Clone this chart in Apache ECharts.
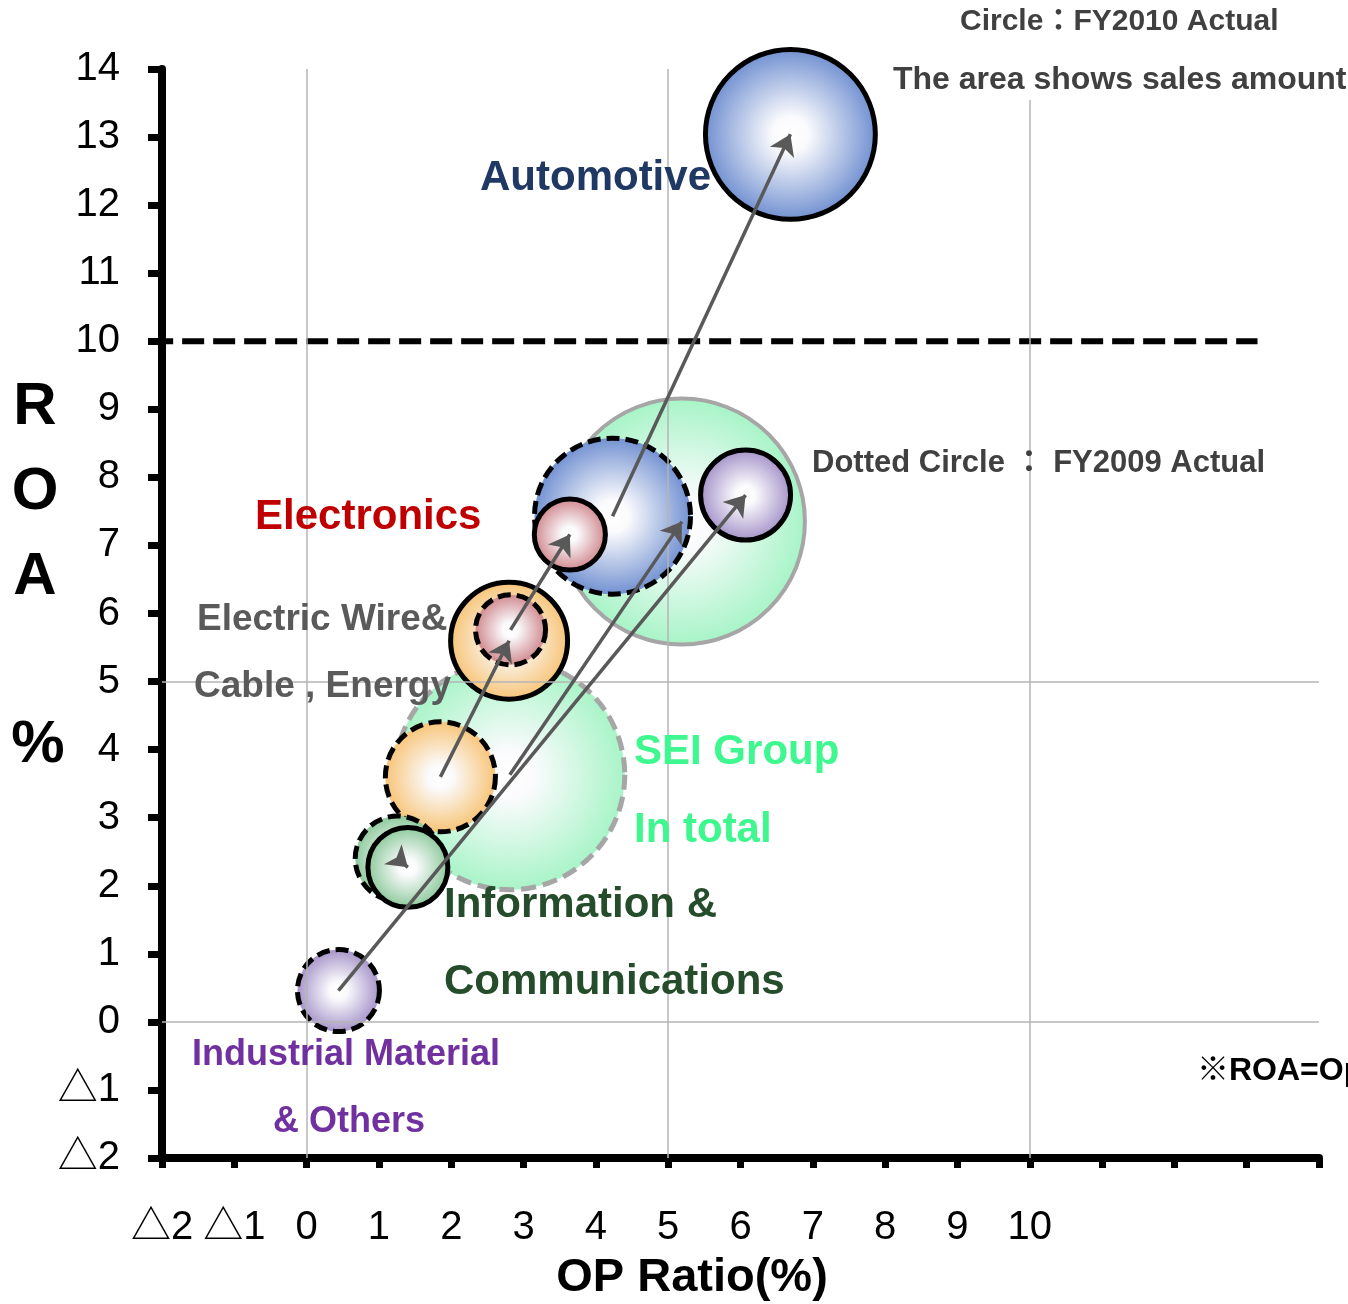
<!DOCTYPE html>
<html>
<head>
<meta charset="utf-8">
<script src="https://cdn.jsdelivr.net/npm/echarts@6/dist/echarts.min.js"></script>
<style>
html,body{margin:0;padding:0;background:#ffffff;}
#chart{width:1348px;height:1304px;}
</style>
</head>
<body>
<div id="chart"></div>
<script>
// ---------------- data ----------------
const segments = ['SEI Group In total', 'Automotive', 'Electric Wire & Cable, Energy', 'Electronics', 'Information & Communications', 'Industrial Material & Others'];
// FY2009 actual (dotted circles)
const opRatio2009 = [2.81, 4.23, 1.85, 2.82, 1.26, 0.44];
const roa2009     = [3.63, 7.43, 3.60, 5.76, 2.40, 0.46];
const sales2009   = [1777, 818, 407, 165, 243, 226];
// FY2010 actual (solid circles)
const opRatio2010 = [5.19, 6.69, 2.80, 3.64, 1.40, 6.07];
const roa2010     = [7.35, 13.04, 5.60, 7.16, 2.27, 7.74];
const sales2010   = [2034, 970, 460, 170, 215, 272];
// axis tick labels (values -2 .. 14)
const xTickLabels = ['△2', '△1', '0', '1', '2', '3', '4', '5', '6', '7', '8', '9', '10', '', '', '', ''];
const yTickLabels = ['△2', '△1', '0', '1', '2', '3', '4', '5', '6', '7', '8', '9', '10', '11', '12', '13', '14'];
const gridX = [0, 5, 10];
const gridY = [0, 5];
const targetRoa = 10;
const targetLineX = [-2.15, 13.15];

// ---------------- styles ----------------
const edgeColors = ['#A6F4C6', '#6E8ED0', '#F7C272', '#CC8086', '#86C695', '#A08DC6'];
const labelFont = "'Liberation Sans', Arial, 'Noto Sans CJK JP', sans-serif";
const tickFont = "'Liberation Sans', Arial, 'Noto Sans CJK JP', sans-serif";
const AXIS_MIN = -2;
const REF_SALES = 2034, REF_DIAM = 246;

function diam(s) { return REF_DIAM * Math.sqrt(s / REF_SALES); }
function grad(edge) {
  return {
    type: 'radial', x: 0.5, y: 0.5, r: 0.5,
    colorStops: [
      { offset: 0, color: '#FFFFFF' },
      { offset: 0.2, color: '#FBFBFD' },
      { offset: 1, color: edge }
    ]
  };
}

const bubbleData = [];
segments.forEach(function (name, i) {
  const isTotal = i === 0;
  bubbleData.push({
    name: name + ' FY2009',
    value: [opRatio2009[i], roa2009[i], sales2009[i]],
    symbolSize: diam(sales2009[i]),
    itemStyle: {
      opacity: 1,
      color: grad(edgeColors[i]),
      borderColor: isTotal ? '#A6A6A6' : '#000000',
      borderWidth: 5,
      borderType: isTotal ? [15, 7] : [13, 6]
    }
  });
  bubbleData.push({
    name: name + ' FY2010',
    value: [opRatio2010[i], roa2010[i], sales2010[i]],
    symbolSize: diam(sales2010[i]),
    itemStyle: {
      opacity: 1,
      color: grad(edgeColors[i]),
      borderColor: isTotal ? '#A6A6A6' : '#000000',
      borderWidth: isTotal ? 4 : 5,
      borderType: 'solid'
    }
  });
});

const arrowData = segments.map(function (name, i) {
  return { name: name, coords: [[opRatio2009[i], roa2009[i]], [opRatio2010[i], roa2010[i]]] };
});

const gridLineData = gridX.map(function (v) { return { xAxis: v }; })
  .concat(gridY.map(function (v) { return { yAxis: v }; }));

function txt(text, x, y, size, color, weight, align, bg) {
  const st = {
    text: text, x: x, y: y, fill: color,
    fontSize: size, fontWeight: weight || 'bold', fontFamily: labelFont,
    align: align || 'left', verticalAlign: 'middle'
  };
  if (bg) { st.backgroundColor = bg; st.padding = [2, 0, 6, 0]; }
  return { type: 'text', silent: true, z: 100, style: st };
}

const chart = echarts.init(document.getElementById('chart'), null, { renderer: 'canvas' });
chart.setOption({
  animation: false,
  backgroundColor: '#ffffff',
  grid: { left: 162, right: 29, top: 69, bottom: 146, containLabel: false, outerBoundsMode: 'none' },
  xAxis: {
    type: 'value', min: AXIS_MIN, max: 14, interval: 1,
    axisLine: { show: true, onZero: false, lineStyle: { color: '#000', width: 8 } },
    axisTick: { show: true, length: 10, lineStyle: { color: '#000', width: 7 } },
    splitLine: { show: false },
    axisLabel: {
      margin: 50, fontSize: 40, color: '#000', fontFamily: tickFont,
      formatter: function (v) { return xTickLabels[Math.round(v - AXIS_MIN)] || ''; }
    }
  },
  yAxis: {
    type: 'value', min: AXIS_MIN, max: 14, interval: 1,
    axisLine: { show: true, onZero: false, lineStyle: { color: '#000', width: 8 } },
    axisTick: { show: true, length: 14, lineStyle: { color: '#000', width: 7 } },
    splitLine: { show: false },
    axisLabel: {
      margin: 42, fontSize: 40, color: '#000', fontFamily: tickFont,
      formatter: function (v) { return yTickLabels[Math.round(v - AXIS_MIN)] || ''; }
    }
  },
  series: [
    {
      type: 'scatter', z: 2, silent: true,
      itemStyle: { opacity: 1 },
      emphasis: { disabled: true },
      data: bubbleData
    },
    {
      type: 'line', z: 3, silent: true, data: [],
      markLine: {
        silent: true, symbol: ['none', 'none'], animation: false,
        label: { show: false },
        lineStyle: { color: '#B4B4B4', width: 1.5, type: 'solid', opacity: 1 },
        emphasis: { disabled: true },
        data: gridLineData
      }
    },
    {
      type: 'line', z: 4, silent: true, clip: false, showSymbol: false,
      symbol: 'none',
      lineStyle: { color: '#000', width: 6, type: [22, 9] },
      data: targetLineX.map(function (x) { return [x, targetRoa]; })
    },
    {
      type: 'lines', coordinateSystem: 'cartesian2d', z: 6, silent: true,
      symbol: ['none', 'arrow'], symbolSize: 20,
      lineStyle: { color: '#595959', width: 3.5, opacity: 1, curveness: 0 },
      data: arrowData
    }
  ],
  graphic: [
    txt('Circle：FY2010 Actual', 960, 22, 30, '#404040'),
    txt('The area shows sales amount', 893, 80, 32, '#404040', 'bold', 'left', '#ffffff'),
    txt('Automotive', 480, 178, 42, '#1F3864'),
    txt('Electronics', 255, 517, 42, '#C00000'),
    txt('Electric Wire&', 197, 620, 37, '#5A5A5A'),
    txt('Cable , Energy', 194, 687, 37, '#5A5A5A'),
    txt('SEI Group', 634, 752, 42, '#3EF78E'),
    txt('In total', 634, 830, 42, '#3EF78E'),
    txt('Information &', 444, 905, 42, '#264D2B'),
    txt('Communications', 444, 982, 42, '#264D2B'),
    txt('Industrial Material', 192, 1055, 36, '#7030A0'),
    txt('& Others', 273, 1122, 36, '#7030A0'),
    txt('Dotted Circle ： FY2009 Actual', 812, 463, 31, '#404040'),
    txt('※ROA=Operating Income / Total Assets', 1197, 1071, 32, '#000000'),
    txt('OP Ratio(%)', 692, 1278, 47, '#000000', 'bold', 'center'),
    txt('R', 35, 407, 60, '#000000', 'bold', 'center'),
    txt('O', 35, 492, 60, '#000000', 'bold', 'center'),
    txt('A', 35, 577, 60, '#000000', 'bold', 'center'),
    txt('%', 38, 745, 60, '#000000', 'bold', 'center')
  ]
});
</script>
</body>
</html>
